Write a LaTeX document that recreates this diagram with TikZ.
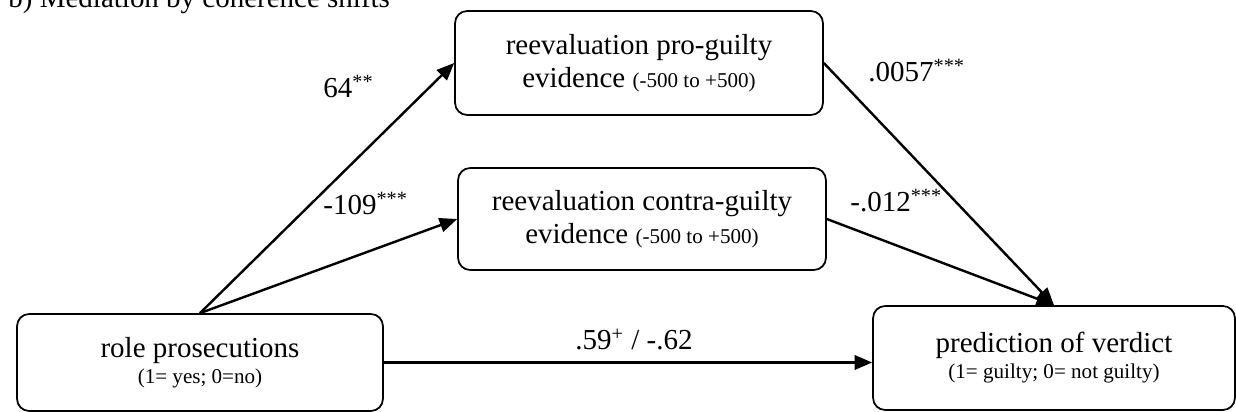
\documentclass[tikz,border=0pt]{standalone}
\usepackage{fontspec}
\setmainfont{Liberation Serif}
\usetikzlibrary{arrows.meta,positioning}
\newcommand{\smalltxt}{\fontsize{9.6}{11.5}\selectfont}

\begin{document}
\begin{tikzpicture}[
  x=0.016cm, y=0.016cm,
  box/.style={draw, rounded corners=5.5pt, line width=0.8pt, align=center, inner sep=0pt, font=\fontsize{13.2}{15}\selectfont},
  lbl/.style={anchor=base west, inner sep=0pt, font=\fontsize{13.2}{15}\selectfont},
  arr/.style={-{Triangle[length=8pt,width=6.5pt]}, line width=1.1pt}
]
  \useasboundingbox (0,0) rectangle (1236,412);

  \node[lbl] (title) at (8,404) {b) Mediation by coherence shifts};

  \node[box, minimum width=5.888cm, minimum height=1.664cm] (pro) at (639,349) {reevaluation pro-guilty\\evidence {\smalltxt (-500 to +500)}};
  \node[box, minimum width=5.888cm, minimum height=1.632cm] (contra) at (642,193) {reevaluation contra-guilty\\evidence {\smalltxt (-500 to +500)}};
  \node[box, minimum width=5.856cm, minimum height=1.552cm] (role) at (200,49.5) {role prosecutions\\[-3.2pt]{\smalltxt (1= yes; 0=no)}};
  \node[box, minimum width=5.792cm, minimum height=1.664cm] (verdict) at (1054,54) {prediction of verdict\\[-3.2pt]{\smalltxt (1= guilty; 0= not guilty)}};

  \draw[arr] (role.north) -- (pro.west);
  \draw[arr] (role.north) -- (contra.west);
  \draw[arr] (pro.east) -- (verdict.north);
  \draw[arr] (contra.east) -- (verdict.north);
  \draw[arr, line width=1.3pt] (role.east) -- (role.east -| verdict.west);

  \node[lbl] (a1) at (323,314) {64\textsuperscript{**}};
  \node[lbl] (a2) at (323,197) {-109\textsuperscript{***}};
  \node[lbl] (b1) at (868,330) {.0057\textsuperscript{***}};
  \node[lbl] (b2) at (850,200) {-.012\textsuperscript{***}};
  \node[lbl] (c) at (575,62) {.59\textsuperscript{+} / -.62};
\end{tikzpicture}
\end{document}
